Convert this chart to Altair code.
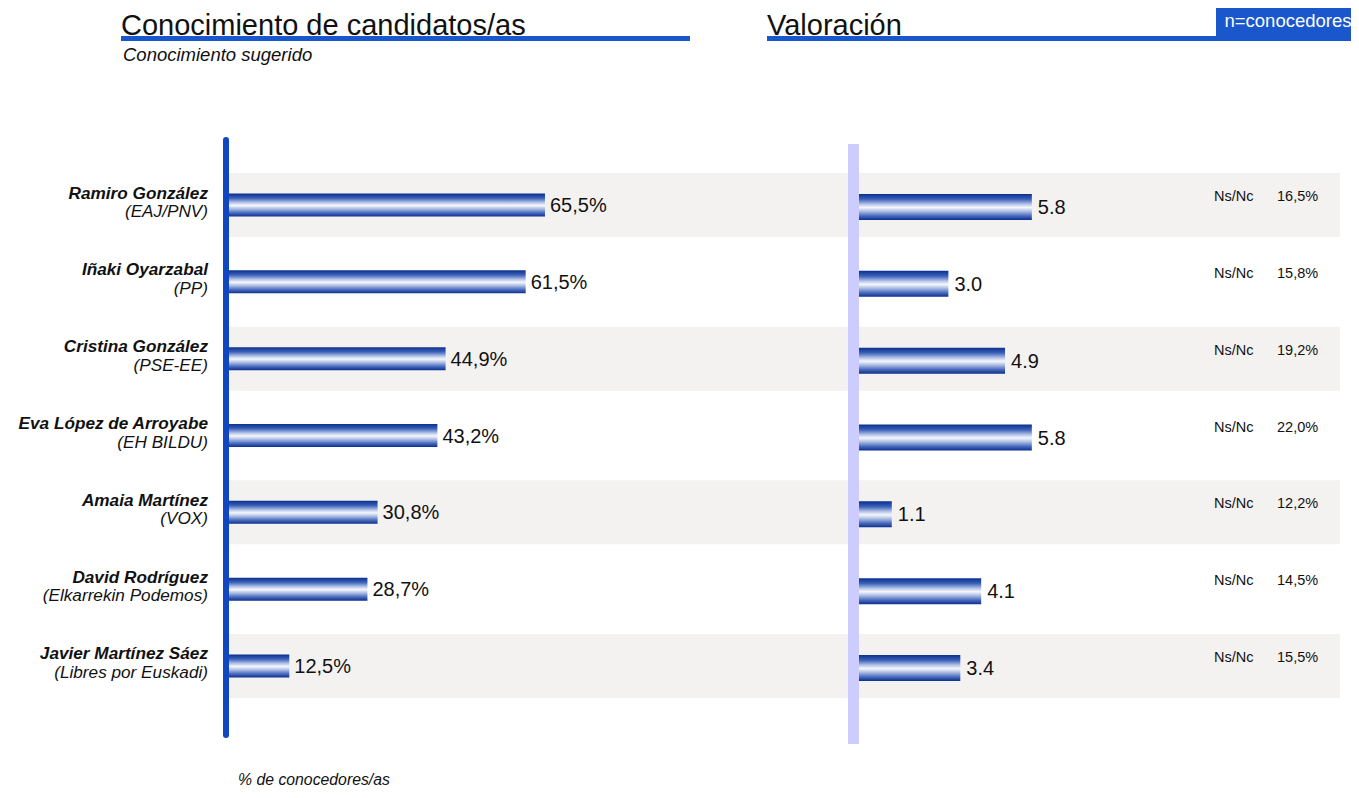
import altair as alt
import pandas as pd

names = ["Ramiro González", "Iñaki Oyarzabal", "Cristina González",
         "Eva López de Arroyabe", "Amaia Martínez", "David Rodríguez",
         "Javier Martínez Sáez"]
parties = ["(EAJ/PNV)", "(PP)", "(PSE-EE)", "(EH BILDU)", "(VOX)",
           "(Elkarrekin Podemos)", "(Libres por Euskadi)"]
conocimiento = [65.5, 61.5, 44.9, 43.2, 30.8, 28.7, 12.5]
valoracion = [5.8, 3.0, 4.9, 5.8, 1.1, 4.1, 3.4]
nsnc = [16.5, 15.8, 19.2, 22.0, 12.2, 14.5, 15.5]

df = pd.DataFrame({
    "name": names,
    "party": parties,
    "conoc": conocimiento,
    "val": valoracion,
    "nsnc": nsnc,
})
df["row"] = list(range(len(names)))
df["conoc_lbl"] = [f"{v:.1f}".replace(".", ",") + "%" for v in conocimiento]
df["val_lbl"] = [f"{v:.1f}" for v in valoracion]
df["nsnc_lbl"] = [f"{v:.1f}".replace(".", ",") + "%" for v in nsnc]

one = pd.DataFrame({"k": [0]})

FONT = "Liberation Sans"
BLUE = "#1a56cc"
AXBLUE = "#1046c0"
TXT = "#111111"

Y = alt.Y("name:N", scale=alt.Scale(domain=names, range=[165, 690],
                                    paddingInner=0.167, paddingOuter=0),
          axis=None)
XL = alt.X("conoc:Q", scale=alt.Scale(domain=[0, 100], range=[221, 703.4]), axis=None)
XR = alt.X("val:Q", scale=alt.Scale(domain=[0, 10], range=[851, 1149]), axis=None)

grad = alt.Gradient(
    gradient="linear", x1=0, x2=0, y1=0, y2=1,
    stops=[
        alt.GradientStop(color="#0a2f8e", offset=0),
        alt.GradientStop(color="#3a60b8", offset=0.2),
        alt.GradientStop(color="#b9c7e9", offset=0.4),
        alt.GradientStop(color="#f5f7fd", offset=0.52),
        alt.GradientStop(color="#b0c0e5", offset=0.66),
        alt.GradientStop(color="#4a6cbe", offset=0.84),
        alt.GradientStop(color="#0a2f8e", offset=1),
    ],
)

base = alt.Chart(df)

shade = base.transform_filter("datum.row % 2 == 0").mark_rect(color="#f4f1f1").encode(
    y=Y, x=alt.value(220), x2=alt.value(1332))

left_axis = alt.Chart(one).mark_rule(color=AXBLUE, strokeWidth=6, strokeCap="round").encode(
    x=alt.value(218), y=alt.value(132), y2=alt.value(727))

right_axis = alt.Chart(one).mark_rect(color="#ccccff").encode(
    x=alt.value(840), x2=alt.value(851), y=alt.value(136), y2=alt.value(736))

left_bars = base.mark_bar(size=23, color=grad).encode(x=XL, y=Y)
left_lbl = base.mark_text(align="left", baseline="middle", dx=5, dy=1, fontSize=20,
                          font=FONT, color=TXT).encode(x=XL, y=Y, text="conoc_lbl:N")

right_bars = base.mark_bar(size=26, color=grad, yOffset=2).encode(x=XR, y=Y)
right_lbl = base.mark_text(align="left", baseline="middle", dx=6, dy=3, fontSize=20,
                           font=FONT, color=TXT).encode(x=XR, y=Y, text="val_lbl:N")

nsnc_txt = base.mark_text(align="left", baseline="middle", dy=-8, fontSize=14.5,
                          font=FONT, color=TXT).encode(
    x=alt.value(1206), y=Y, text=alt.value("Ns/Nc"))
nsnc_val = base.mark_text(align="left", baseline="middle", dy=-8, fontSize=14.5,
                          font=FONT, color=TXT).encode(
    x=alt.value(1269), y=Y, text="nsnc_lbl:N")

name_txt = base.mark_text(align="right", baseline="middle", dy=-11.5, fontSize=17.2,
                          font=FONT, fontWeight="bold", fontStyle="italic",
                          color=TXT).encode(x=alt.value(200), y=Y, text="name:N")
party_txt = base.mark_text(align="right", baseline="middle", dy=7, fontSize=17.2,
                           font=FONT, fontStyle="italic", color=TXT).encode(
    x=alt.value(200), y=Y, text="party:N")

ul_left = alt.Chart(one).mark_rect(color=BLUE).encode(
    x=alt.value(113), x2=alt.value(682), y=alt.value(28), y2=alt.value(33))
ul_right = alt.Chart(one).mark_rect(color=BLUE).encode(
    x=alt.value(759), x2=alt.value(1351), y=alt.value(28), y2=alt.value(33))
box = alt.Chart(one).mark_rect(color=BLUE).encode(
    x=alt.value(1208), x2=alt.value(1351), y=alt.value(0), y2=alt.value(28))
box_txt = alt.Chart(one).mark_text(align="center", baseline="middle", fontSize=18.5,
                                   font=FONT, color="white").encode(
    x=alt.value(1280), y=alt.value(13), text=alt.value("n=conocedores"))

title_l = alt.Chart(one).mark_text(align="left", baseline="alphabetic", fontSize=29,
                                   font=FONT, color=TXT).encode(
    x=alt.value(113), y=alt.value(26.5), text=alt.value("Conocimiento de candidatos/as"))
title_r = alt.Chart(one).mark_text(align="left", baseline="alphabetic", fontSize=29,
                                   font=FONT, color=TXT).encode(
    x=alt.value(759), y=alt.value(26.5), text=alt.value("Valoración"))
subtitle = alt.Chart(one).mark_text(align="left", baseline="middle", fontSize=18.5,
                                    font=FONT, fontStyle="italic", color=TXT).encode(
    x=alt.value(115), y=alt.value(47), text=alt.value("Conocimiento sugerido"))
footer = alt.Chart(one).mark_text(align="left", baseline="middle", fontSize=15.8,
                                  font=FONT, fontStyle="italic", color=TXT).encode(
    x=alt.value(230), y=alt.value(772), text=alt.value("% de conocedores/as"))

chart = alt.layer(
    shade, right_axis, left_bars, left_lbl, right_bars, right_lbl, left_axis,
    nsnc_txt, nsnc_val, name_txt, party_txt,
    ul_left, ul_right, box, box_txt, title_l, title_r, subtitle, footer,
).resolve_scale(x="independent").properties(
    width=1343, height=782, autosize="none", padding=0,
).configure_view(stroke=None)

chart.save("out.html", embed_options={"renderer": "svg", "actions": False})
